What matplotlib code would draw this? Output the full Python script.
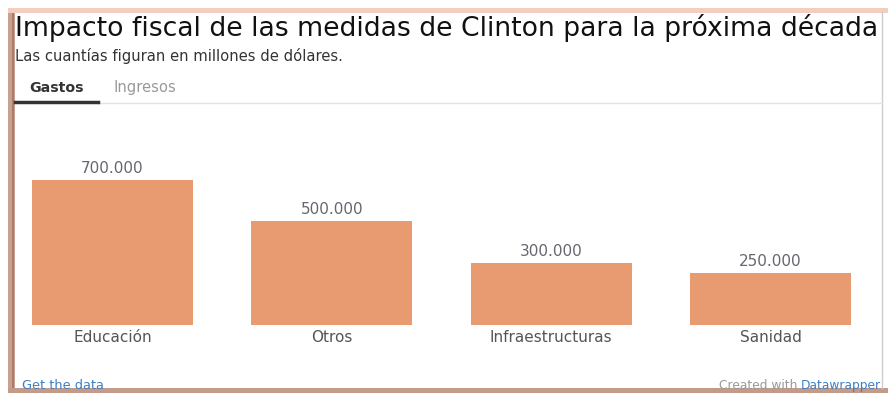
import matplotlib
matplotlib.use("Agg")
import matplotlib.pyplot as plt
from matplotlib.patches import Rectangle

plt.rcParams["font.family"] = ["DejaVu Sans"]

# Data (millones de dólares)
categorias = ["Educación", "Otros", "Infraestructuras", "Sanidad"]
gastos = [700000, 500000, 300000, 250000]
etiquetas = ["700.000", "500.000", "300.000", "250.000"]

W, H = 888, 395
fig = plt.figure(figsize=(W / 100, H / 100), dpi=100)
fig.patch.set_facecolor("white")


def fx(px):
    return px / W


def fy(py):
    return 1 - py / H


# frame (screenshot border)
frame = [
    ((8, 393), 7, 384, "#c9a190"),
    ((12, 393), 2, 382, "#a87c6c"),
    ((8, 393), 880, 5, "#c49a88"),
    ((8, 13), 880, 5, "#f3cdbd"),
]
for (x0, y0), w, h, c in frame:
    fig.patches.append(Rectangle((fx(x0), fy(y0)), fx(w), h / H, transform=fig.transFigure,
                                 facecolor=c, edgecolor="none", zorder=1))
fig.add_artist(plt.Line2D([fx(882), fx(882)], [fy(12), fy(388)], transform=fig.transFigure,
                          color="#cccccc", lw=1))

# header
fig.text(fx(15), fy(36), "Impacto fiscal de las medidas de Clinton para la próxima década",
         fontsize=19.2, color="#111111", ha="left", va="baseline")
fig.text(fx(15), fy(61), "Las cuantías figuran en millones de dólares.",
         fontsize=10.6, color="#333333", ha="left", va="baseline")
fig.text(fx(29), fy(92), "Gastos", fontsize=10.2, fontweight="bold", color="#333333",
         ha="left", va="baseline")
fig.text(fx(113), fy(92), "Ingresos", fontsize=10.6, color="#999999", ha="left", va="baseline")
fig.add_artist(plt.Line2D([fx(98), fx(882)], [fy(103), fy(103)], transform=fig.transFigure,
                          color="#e2e2e2", lw=1))
fig.add_artist(plt.Line2D([fx(15), fx(98)], [fy(102), fy(102)], transform=fig.transFigure,
                          color="#333333", lw=2.5))

# bars
unit = 219.33
ax = fig.add_axes([0, fy(325), 1, 145 / H])
ax.set_xlim(-112.5 / unit, (W - 112.5) / unit)
ax.set_ylim(0, 700000)
x = range(len(categorias))
ax.bar(x, gastos, width=161 / unit, color="#e89b70")
for i, (v, t) in enumerate(zip(gastos, etiquetas)):
    ax.text(i, v + 700000 * 4 / 145, t, ha="center", va="bottom", fontsize=11,
            color="#666670", clip_on=False)
    ax.text(i, -700000 * 5 / 145, categorias[i], ha="center", va="top", fontsize=11,
            color="#555555", clip_on=False)
ax.axis("off")

# footer
fig.text(fx(22), fy(389), "Get the data", fontsize=9.3, color="#3b7fc4", ha="left",
         va="baseline", zorder=3)
fig.text(fx(801), fy(389), "Datawrapper", fontsize=8.8, color="#3b7fc4", ha="left",
         va="baseline", zorder=3)
fig.text(fx(797), fy(389), "Created with", fontsize=8.8, color="#999999", ha="right",
         va="baseline", zorder=3)

fig.savefig("out.png", dpi=100)
